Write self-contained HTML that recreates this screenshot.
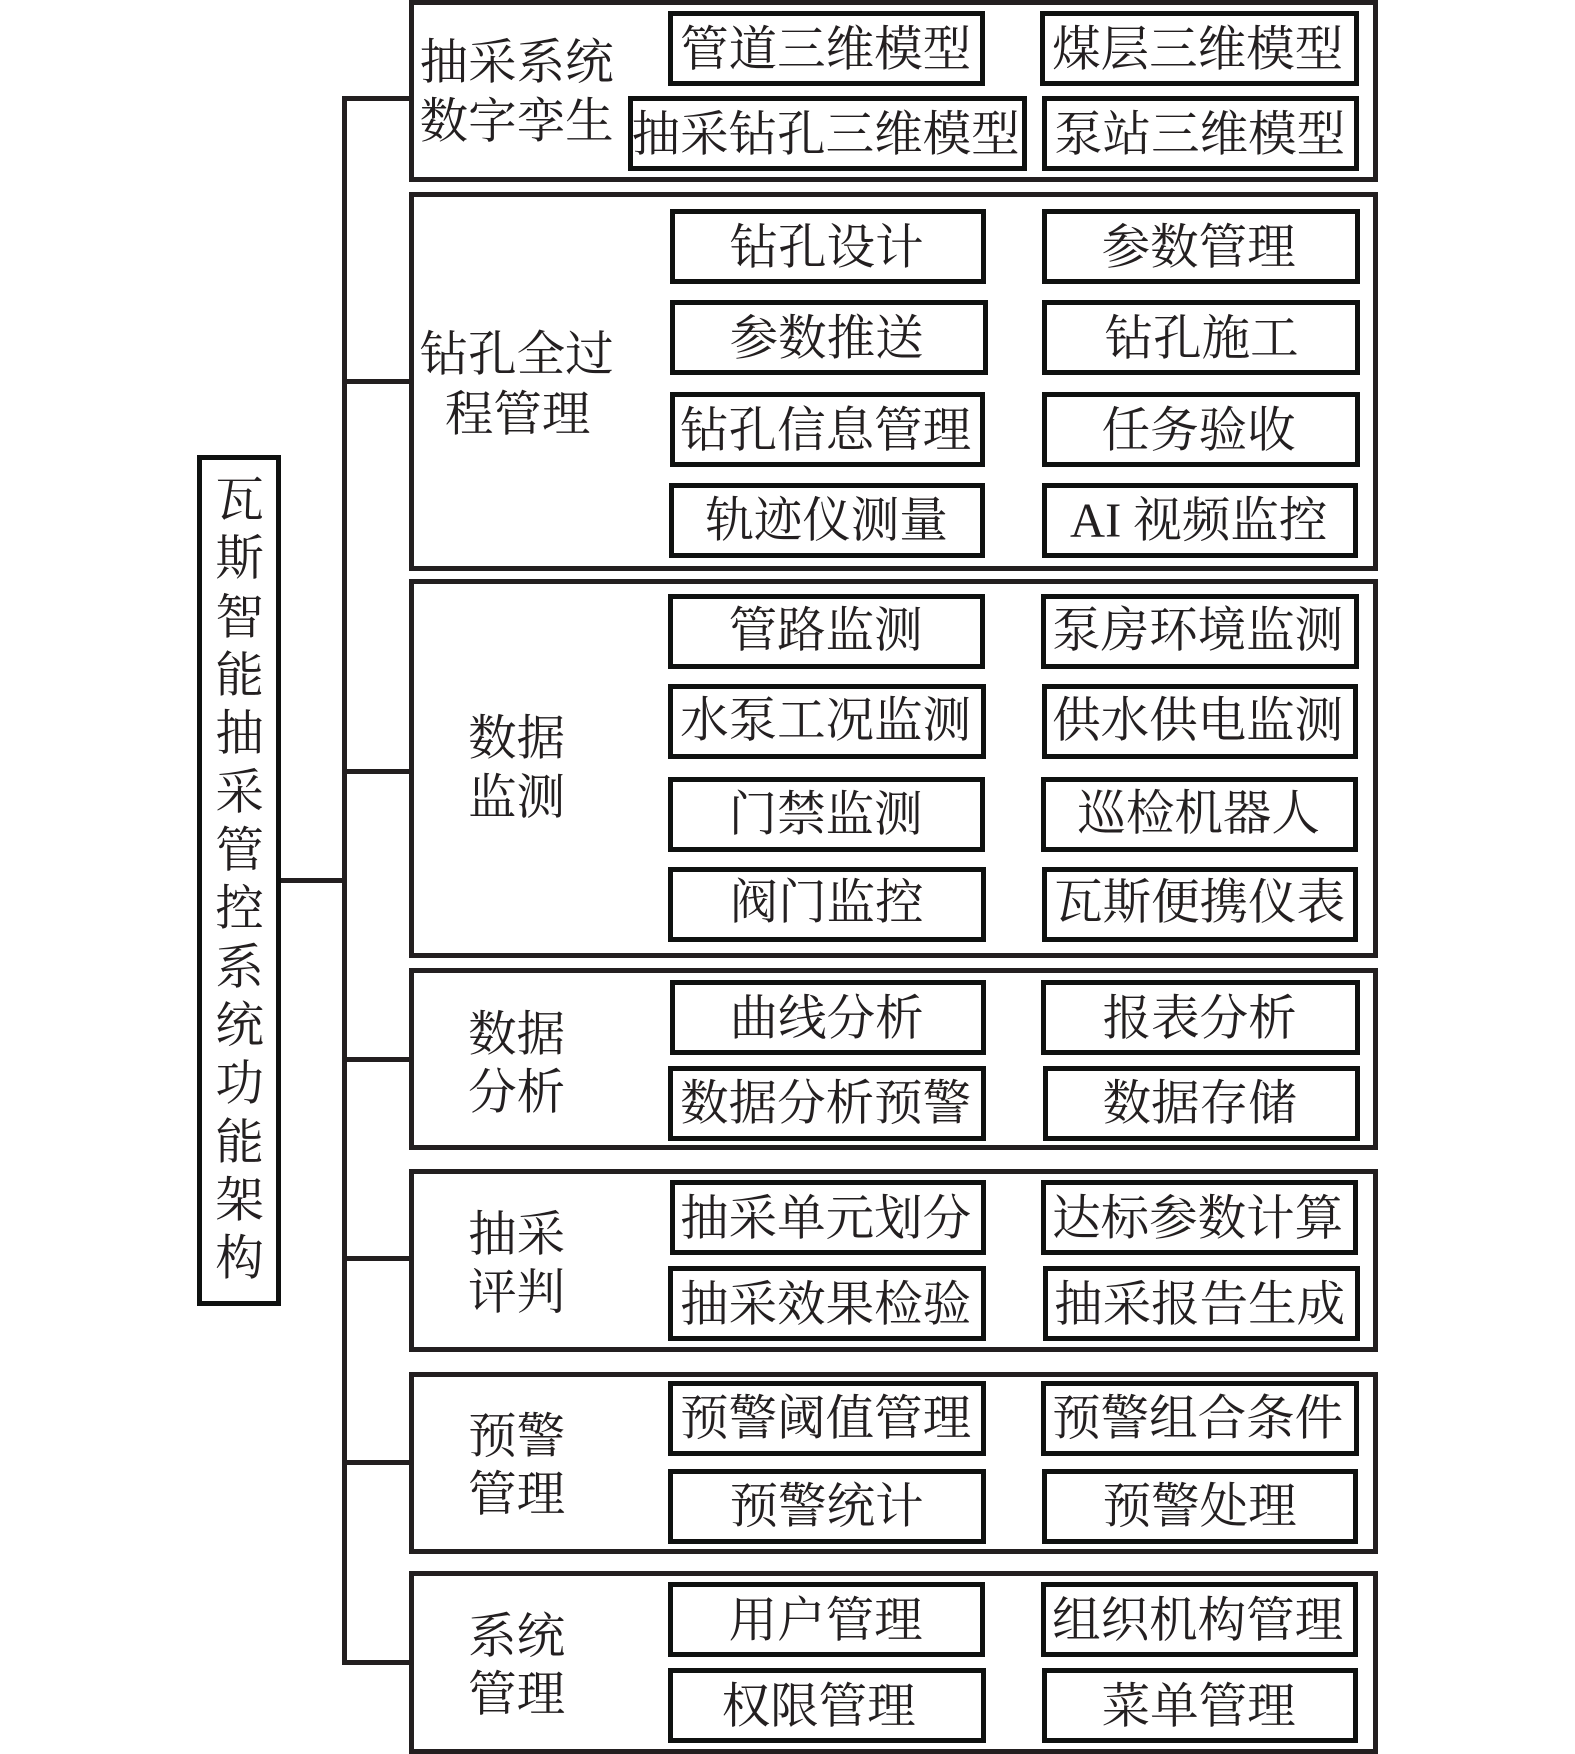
<!DOCTYPE html>
<html lang="zh-CN"><head><meta charset="utf-8"><title>瓦斯智能抽采管控系统功能架构</title>
<style>
html,body{margin:0;padding:0;background:#fff}
#p{position:relative;width:1575px;height:1754px;overflow:hidden;background:#fff}
#p div{position:absolute;box-sizing:border-box}
.g{left:409px;width:969px;border:5px solid #231f20}
.c{border:5px solid #0f1110;height:75px}
.l{background:#231f20}
svg{position:absolute;left:0;top:0}
text{font-family:"Liberation Serif","Noto Serif CJK SC",serif;font-size:48.5px;fill:#231f20;text-anchor:middle}
</style></head><body><div id="p">
<div class="g" style="top:0;height:182px"></div>
<div class="g" style="top:192px;height:379px"></div>
<div class="g" style="top:579px;height:379px"></div>
<div class="g" style="top:968px;height:182px"></div>
<div class="g" style="top:1169px;height:183px"></div>
<div class="g" style="top:1372px;height:182px"></div>
<div class="g" style="top:1571px;height:183px"></div>

<div style="left:197px;top:455px;width:84px;height:851px;border:5px solid #0f1110"></div>
<div class="l" style="left:281px;top:878px;width:61px;height:5px"></div>
<div class="l" style="left:342px;top:96px;width:5px;height:1569px"></div>
<div class="l" style="left:342px;top:96px;width:67px;height:5px"></div>
<div class="l" style="left:342px;top:379px;width:67px;height:5px"></div>
<div class="l" style="left:342px;top:769px;width:67px;height:5px"></div>
<div class="l" style="left:342px;top:1057px;width:67px;height:5px"></div>
<div class="l" style="left:342px;top:1256px;width:67px;height:5px"></div>
<div class="l" style="left:342px;top:1460px;width:67px;height:5px"></div>
<div class="l" style="left:342px;top:1660px;width:67px;height:5px"></div>

<div class="c" style="left:668px;top:11px;width:317px"></div>
<div class="c" style="left:1040px;top:11px;width:319px"></div>
<div class="c" style="left:628px;top:96px;width:399px"></div>
<div class="c" style="left:1042px;top:96px;width:317px"></div>

<div class="c" style="left:670px;top:209px;width:316px"></div>
<div class="c" style="left:1042px;top:209px;width:318px"></div>
<div class="c" style="left:670px;top:300px;width:318px"></div>
<div class="c" style="left:1042px;top:300px;width:318px"></div>
<div class="c" style="left:670px;top:392px;width:315px"></div>
<div class="c" style="left:1042px;top:392px;width:318px"></div>
<div class="c" style="left:669px;top:483px;width:316px"></div>
<div class="c" style="left:1042px;top:483px;width:316px"></div>

<div class="c" style="left:668px;top:594px;width:317px"></div>
<div class="c" style="left:1041px;top:594px;width:318px"></div>
<div class="c" style="left:668px;top:684px;width:318px"></div>
<div class="c" style="left:1042px;top:684px;width:316px"></div>
<div class="c" style="left:668px;top:777px;width:317px"></div>
<div class="c" style="left:1041px;top:777px;width:317px"></div>
<div class="c" style="left:668px;top:867px;width:318px"></div>
<div class="c" style="left:1042px;top:867px;width:316px"></div>

<div class="c" style="left:670px;top:980px;width:316px"></div>
<div class="c" style="left:1041px;top:980px;width:319px"></div>
<div class="c" style="left:668px;top:1066px;width:318px"></div>
<div class="c" style="left:1043px;top:1066px;width:317px"></div>

<div class="c" style="left:670px;top:1180px;width:316px"></div>
<div class="c" style="left:1041px;top:1180px;width:317px"></div>
<div class="c" style="left:668px;top:1266px;width:318px"></div>
<div class="c" style="left:1043px;top:1266px;width:317px"></div>

<div class="c" style="left:668px;top:1381px;width:318px"></div>
<div class="c" style="left:1041px;top:1381px;width:318px"></div>
<div class="c" style="left:668px;top:1469px;width:318px"></div>
<div class="c" style="left:1042px;top:1469px;width:316px"></div>

<div class="c" style="left:668px;top:1582px;width:317px"></div>
<div class="c" style="left:1041px;top:1582px;width:317px"></div>
<div class="c" style="left:668px;top:1668px;width:318px"></div>
<div class="c" style="left:1042px;top:1668px;width:316px"></div>

<svg width="1575" height="1754" viewBox="0 0 1575 1754">
<g transform="translate(0.7,0.4)">
<text x="239" y="516">瓦</text>
<text x="239" y="574">斯</text>
<text x="239" y="633">智</text>
<text x="239" y="691">能</text>
<text x="239" y="749">抽</text>
<text x="239" y="808">采</text>
<text x="239" y="866">管</text>
<text x="239" y="924">控</text>
<text x="239" y="983">系</text>
<text x="239" y="1041">统</text>
<text x="239" y="1099">功</text>
<text x="239" y="1158">能</text>
<text x="239" y="1216">架</text>
<text x="239" y="1274">构</text>

<text x="516" y="78">抽采系统</text>
<text x="516" y="137">数字孪生</text>
<text x="516" y="370">钻孔全过</text>
<text x="517" y="430">程管理</text>
<text x="516" y="754">数据</text>
<text x="516" y="813">监测</text>
<text x="516" y="1050">数据</text>
<text x="516" y="1108">分析</text>
<text x="516" y="1250">抽采</text>
<text x="516" y="1308">评判</text>
<text x="516" y="1452">预警</text>
<text x="516" y="1510">管理</text>
<text x="516" y="1652">系统</text>
<text x="516" y="1710">管理</text>

<text x="825" y="65">管道三维模型</text>
<text x="1197" y="65">煤层三维模型</text>
<text x="825" y="150">抽采钻孔三维模型</text>
<text x="1199" y="150">泵站三维模型</text>

<text x="826" y="263">钻孔设计</text>
<text x="1198" y="263">参数管理</text>
<text x="826" y="354">参数推送</text>
<text x="1201" y="354">钻孔施工</text>
<text x="825" y="446">钻孔信息管理</text>
<text x="1198" y="446">任务验收</text>
<text x="826" y="536">轨迹仪测量</text>
<text x="1198" y="536">AI 视频监控</text>

<text x="825" y="646">管路监测</text>
<text x="1197" y="646">泵房环境监测</text>
<text x="825" y="736">水泵工况监测</text>
<text x="1197" y="736">供水供电监测</text>
<text x="825" y="830">门禁监测</text>
<text x="1198" y="829">巡检机器人</text>
<text x="826" y="918">阀门监控</text>
<text x="1199" y="918">瓦斯便携仪表</text>

<text x="826" y="1034">曲线分析</text>
<text x="1199" y="1034">报表分析</text>
<text x="825" y="1119">数据分析预警</text>
<text x="1199" y="1119">数据存储</text>

<text x="825" y="1234">抽采单元划分</text>
<text x="1197" y="1234">达标参数计算</text>
<text x="825" y="1320">抽采效果检验</text>
<text x="1199" y="1320">抽采报告生成</text>

<text x="825" y="1434">预警阈值管理</text>
<text x="1197" y="1434">预警组合条件</text>
<text x="826" y="1522">预警统计</text>
<text x="1199" y="1522">预警处理</text>

<text x="825" y="1636">用户管理</text>
<text x="1197" y="1636">组织机构管理</text>
<text x="818" y="1722">权限管理</text>
<text x="1198" y="1722">菜单管理</text>
</g>
</svg>
</div></body></html>
